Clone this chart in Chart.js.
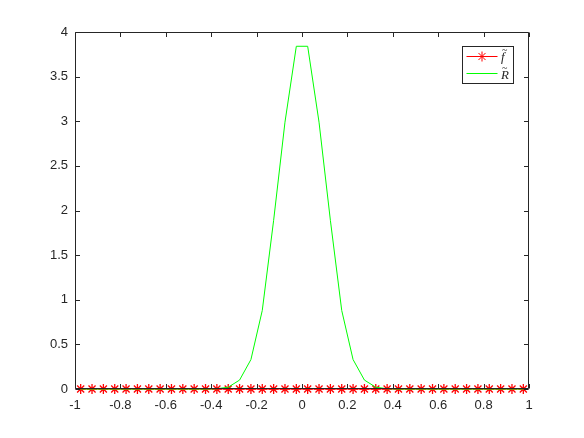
<!DOCTYPE html>
<html>
<head>
<meta charset="utf-8">
<script src="https://cdn.jsdelivr.net/npm/chart.js@4.4.1/dist/chart.umd.min.js"></script>
<style>
  html, body { margin: 0; padding: 0; background: #fff; }
  #wrap { width: 584px; height: 438px; position: relative; }
</style>
</head>
<body>
<div id="wrap"><canvas id="plot"></canvas></div>
<script>
// sample positions
var xValues = [-0.975, -0.925, -0.875, -0.825, -0.775, -0.725, -0.675, -0.625, -0.575, -0.525,
               -0.475, -0.425, -0.375, -0.325, -0.275, -0.225, -0.175, -0.125, -0.075, -0.025,
                0.025,  0.075,  0.125,  0.175,  0.225,  0.275,  0.325,  0.375,  0.425,  0.475,
                0.525,  0.575,  0.625,  0.675,  0.725,  0.775,  0.825,  0.875,  0.925,  0.975];
// f~ (red stars)
var fValues = [0, 0, 0, 0, 0, 0, 0, 0, 0, 0,
               0, 0, 0, 0, 0, 0, 0, 0, 0, 0,
               0, 0, 0, 0, 0, 0, 0, 0, 0, 0,
               0, 0, 0, 0, 0, 0, 0, 0, 0, 0];
// R~ (green line)
var rValues = [0, 0, 0, 0, 0, 0, 0, 0, 0, 0,
               0, 0, 0.003, 0.02, 0.1, 0.33, 0.88, 1.89, 2.99, 3.84,
               3.84, 2.99, 1.89, 0.88, 0.33, 0.1, 0.02, 0.003, 0, 0,
               0, 0, 0, 0, 0, 0, 0, 0, 0, 0];
var legendLetters = ['f', 'R'];
var xTicks = [-1, -0.8, -0.6, -0.4, -0.2, 0, 0.2, 0.4, 0.6, 0.8, 1];
var yTicks = [0, 0.5, 1, 1.5, 2, 2.5, 3, 3.5, 4];

var axisColor = '#262626';
var tickFont = { family: '"Liberation Sans", Arial, Helvetica, sans-serif', size: 13 };

function pts(xs, ys) {
  var out = [];
  for (var i = 0; i < xs.length; i++) out.push({ x: xs[i], y: ys[i] });
  return out;
}

// box round the axes, inward ticks on all four sides, and the legend
var matlabBox = {
  id: 'matlabBox',
  afterDatasetsDraw: function(chart) {
    var c = chart.ctx, a = chart.chartArea;
    var sx = chart.scales.x, sy = chart.scales.y;
    var L = Math.round(a.left) + 0.5, R = Math.round(a.right) - 0.5;
    var T = Math.round(a.top) + 0.5, B = Math.round(a.bottom) - 0.5;
    c.save();
    c.strokeStyle = axisColor;
    c.lineWidth = 1;
    c.beginPath();
    c.rect(L, T, R - L, B - T);
    var len = 4.5;
    xTicks.forEach(function(v) {
      var px = Math.round(sx.getPixelForValue(v)) + 0.5;
      c.moveTo(px, B); c.lineTo(px, B - len);
      c.moveTo(px, T); c.lineTo(px, T + len);
    });
    yTicks.forEach(function(v) {
      var py = Math.round(sy.getPixelForValue(v)) + 0.5;
      c.moveTo(L, py); c.lineTo(L + len, py);
      c.moveTo(R, py); c.lineTo(R - len, py);
    });
    c.stroke();

    // legend
    var bx = 462.5, by = 46.5, bw = 51, bh = 37;
    c.fillStyle = '#fff';
    c.fillRect(bx, by, bw, bh);
    c.strokeStyle = axisColor;
    c.strokeRect(bx, by, bw, bh);
    var ds = chart.data.datasets;
    var rows = [56.5, 73.5];
    var base = [61, 79];
    var tildeBase = [53, 71];
    for (var i = 0; i < 2; i++) {
      var y = rows[i];
      c.strokeStyle = ds[i].borderColor;
      c.lineWidth = 1;
      c.beginPath();
      c.moveTo(466.5, y); c.lineTo(497.5, y);
      c.stroke();
      if (ds[i].pointRadius > 0) {
        Chart.helpers.drawPoint(c, { pointStyle: 'star', radius: 5, borderWidth: 1.3 }, 482, y);
      }
      c.fillStyle = axisColor;
      c.textBaseline = 'alphabetic';
      c.textAlign = 'left';
      c.font = 'italic 13px "Liberation Serif", "DejaVu Serif", serif';
      c.fillText(legendLetters[i], 501, base[i]);
      c.font = '10px "Liberation Serif", "DejaVu Serif", serif';
      c.fillText('~', 502, tildeBase[i]);
    }
    c.restore();
  }
};

var chart = new Chart(document.getElementById('plot'), {
  type: 'scatter',
  data: {
    datasets: [{
      label: 'f',
      data: pts(xValues, fValues),
      showLine: true,
      borderColor: '#ff0000',
      backgroundColor: '#ff0000',
      borderWidth: 1,
      pointStyle: 'star',
      pointRadius: 5,
      pointBorderWidth: 1.3,
      clip: false,
      order: 2
    }, {
      label: 'R',
      data: pts(xValues, rValues),
      showLine: true,
      borderColor: '#00ff00',
      backgroundColor: '#00ff00',
      borderWidth: 1,
      pointRadius: 0,
      clip: false,
      order: 1
    }]
  },
  options: {
    responsive: true,
    maintainAspectRatio: false,
    animation: false,
    layout: { padding: { top: 32, right: 55, left: 0, bottom: 0 } },
    plugins: {
      legend: { display: false },
      tooltip: { enabled: false }
    },
    scales: {
      x: {
        type: 'linear',
        min: -1, max: 1,
        grid: { display: false, drawTicks: false },
        border: { display: false },
        afterBuildTicks: function(s) { s.ticks = xTicks.map(function(v) { return { value: v }; }); },
        afterFit: function(s) { s.height = 49; },
        ticks: {
          color: axisColor, font: tickFont, padding: 9, maxRotation: 0,
          callback: function(v) { return String(Math.round(v * 10) / 10); }
        }
      },
      y: {
        min: 0, max: 4,
        grid: { display: false, drawTicks: false },
        border: { display: false },
        afterBuildTicks: function(s) { s.ticks = yTicks.map(function(v) { return { value: v }; }); },
        afterFit: function(s) { s.width = 75; },
        ticks: {
          color: axisColor, font: tickFont, padding: 7,
          callback: function(v) { return String(v); }
        }
      }
    }
  },
  plugins: [matlabBox]
});
</script>
</body>
</html>
